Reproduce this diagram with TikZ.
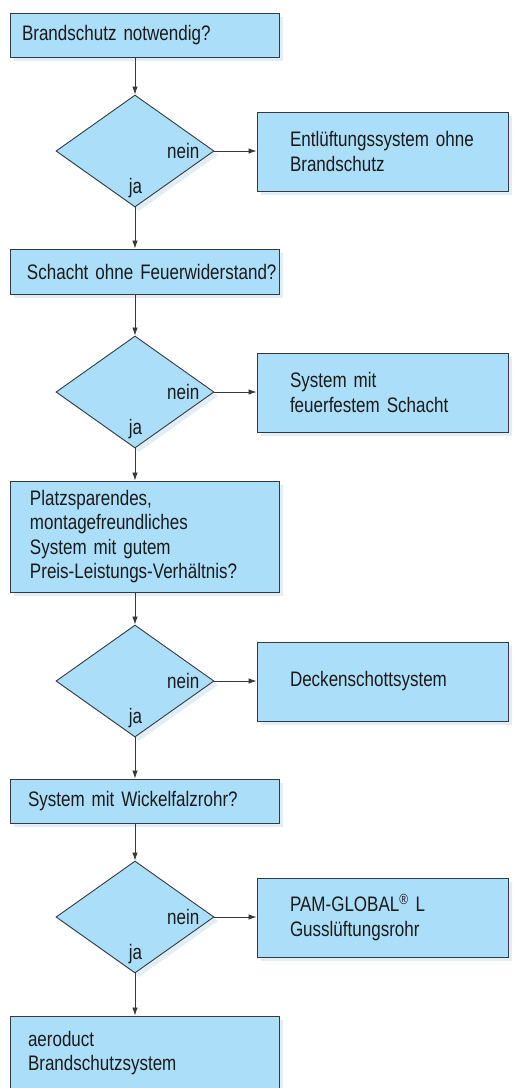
\documentclass[tikz,border=0pt]{standalone}
\usepackage{fontspec}
\setmainfont{Liberation Sans}[FakeStretch=0.81,WordSpace=0.6]
\usetikzlibrary{shapes.geometric,arrows.meta,shadows}
\definecolor{boxblue}{RGB}{171,223,249}
\definecolor{shadowblue}{RGB}{196,222,235}
\definecolor{linegray}{RGB}{55,58,60}
\definecolor{textgray}{RGB}{28,26,27}
\hyphenpenalty=10000
\exhyphenpenalty=10000
\begin{document}
\begin{tikzpicture}[x=1pt,y=-1pt,
    flowfont/.style={text=textgray,font=\fontsize{21pt}{24.6pt}\selectfont},
    softshadow/.style={drop shadow={shadow xshift=4pt,shadow yshift=-4pt,fill=shadowblue}},
    panel/.style={rectangle,draw=linegray,line width=0.9pt,fill=boxblue,softshadow,
      flowfont,align=left,inner ysep=0pt},
    askbox/.style={panel,inner xsep=18pt,text width=233pt},
    endbox/.style={panel,inner xsep=33pt,text width=185pt,minimum height=79pt},
    testbox/.style={diamond,draw=linegray,line width=0.9pt,fill=boxblue,softshadow,
      inner sep=0pt,minimum width=158pt,minimum height=112pt},
    answer/.style={flowfont,inner sep=0pt},
    flow/.style={draw=linegray,line width=0.8pt,-{Latex[length=8pt,width=5.5pt]}}]
    \useasboundingbox (0,0) rectangle (512,1088);
    \node[askbox,inner xsep=12pt,text width=245pt,minimum height=44pt] (schutz) at (144.5,35) {Brandschutz notwendig?};
    \node[testbox] (t1) at (135,151) {};
    \node[endbox] (ohne) at (382.5,151.5) {Entlüftungssystem~ohne\\Brandschutz};
    \node[askbox,inner xsep=17pt,text width=235pt,minimum height=45pt] (schacht) at (144.5,271.5) {\mbox{Schacht ohne Feuerwiderstand?}};
    \node[testbox] (t2) at (135,392) {};
    \node[endbox] (feuer) at (382.5,392.5) {System mit\\feuerfestem~Schacht};
    \node[askbox,inner xsep=20pt,text width=229pt,minimum height=111pt] (platz) at (144.5,536.5) {Platzsparendes,\\montagefreundliches\\System mit gutem\\Preis-Leistungs-Verhältnis?};
    \node[testbox] (t3) at (135,681) {};
    \node[endbox] (decken) at (382.5,681.5) {Deckenschottsystem};
    \node[askbox,minimum height=44pt] (wickel) at (144.5,801) {System mit Wickelfalzrohr?};
    \node[testbox] (t4) at (135,917) {};
    \node[endbox] (guss) at (382.5,917.5) {PAM-GLOBAL\textsuperscript{®}~L\\Gusslüftungsrohr};
    \node[askbox,minimum height=74pt] (aero) at (144.5,1053) {aeroduct\\Brandschutzsystem};
    \foreach \t in {t1,t2,t3,t4}{
      \node[answer,anchor=base west] at ([shift={(32pt,-7pt)}]\t.center) {nein};
      \node[answer,anchor=base] at ([shift={(0.5pt,-42pt)}]\t.center) {ja};
    }
    \draw[flow] (schutz.south -| t1.north) -- (t1.north);
    \draw[flow] (t1.east) -- (t1.east -| ohne.west);
    \draw[flow] (t1.south) -- (t1.south |- schacht.north);
    \draw[flow] (schacht.south -| t2.north) -- (t2.north);
    \draw[flow] (t2.east) -- (t2.east -| feuer.west);
    \draw[flow] (t2.south) -- (t2.south |- platz.north);
    \draw[flow] (platz.south -| t3.north) -- (t3.north);
    \draw[flow] (t3.east) -- (t3.east -| decken.west);
    \draw[flow] (t3.south) -- (t3.south |- wickel.north);
    \draw[flow] (wickel.south -| t4.north) -- (t4.north);
    \draw[flow] (t4.east) -- (t4.east -| guss.west);
    \draw[flow] (t4.south) -- (t4.south |- aero.north);
\end{tikzpicture}
\end{document}
